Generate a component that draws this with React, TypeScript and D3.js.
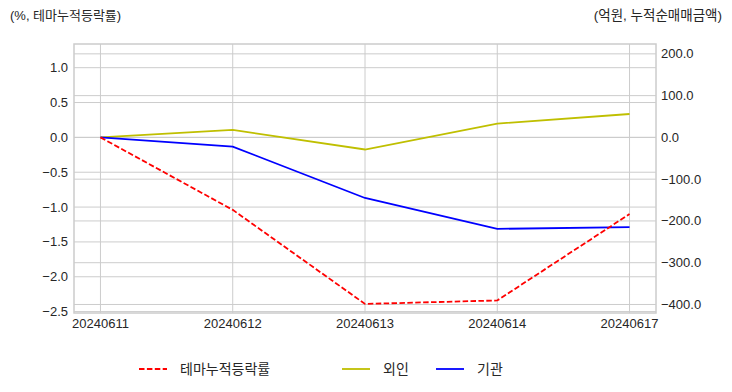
import { useEffect, useRef } from "react";
import * as d3 from "d3";

const dates = ["20240611", "20240612", "20240613", "20240614", "20240617"];
const themeRate = [0, -1.04, -2.39, -2.34, -1.1];
const foreign = [0, 18, -29, 33, 56];
const institution = [0, -22, -145, -219, -215];
const leftTicks = [-2.5, -2.0, -1.5, -1.0, -0.5, 0.0, 0.5, 1.0];
const rightTicks = [-400, -300, -200, -100, 0, 100, 200];

const W = 732;
const H = 392;
const KFONT = "'Liberation Sans', Arial, 'Noto Sans CJK KR', sans-serif";

export default function App() {
  const ref = useRef<SVGSVGElement>(null);

  useEffect(() => {
    const svg = d3.select(ref.current);
    svg.selectAll("*").remove();

    const left = 74, right = 656, top = 44, bottom = 313;

    const x = d3.scaleLinear().domain([-0.2, dates.length - 1 + 0.2]).range([left, right]);
    const yL = d3.scaleLinear().domain([-2.52, 1.34]).range([bottom, top]);
    const yR = d3.scaleLinear().domain([-420.4, 223.6]).range([bottom, top]);

    const grid = svg.append("g").attr("stroke", "#cccccc").attr("stroke-width", 1);

    // vertical grid
    dates.forEach((_, i) => {
      grid.append("line")
        .attr("x1", x(i)).attr("x2", x(i))
        .attr("y1", top).attr("y2", bottom);
    });
    // left grid
    leftTicks.forEach(t => {
      grid.append("line")
        .attr("x1", left).attr("x2", right)
        .attr("y1", yL(t)).attr("y2", yL(t));
    });
    // right grid
    rightTicks.forEach(t => {
      grid.append("line")
        .attr("x1", left).attr("x2", right)
        .attr("y1", yR(t)).attr("y2", yR(t));
    });

    // frame
    svg.append("rect")
      .attr("x", left).attr("y", top)
      .attr("width", right - left).attr("height", bottom - top)
      .attr("fill", "none")
      .attr("stroke", "#cccccc")
      .attr("stroke-width", 1.5);

    const fmt = d3.format(".1f");

    // left tick labels
    svg.append("g").selectAll("text")
      .data(leftTicks)
      .enter()
      .append("text")
      .attr("x", left - 6)
      .attr("y", d => yL(d))
      .attr("dy", "0.35em")
      .attr("text-anchor", "end")
      .attr("font-family", KFONT)
      .attr("font-size", 13)
      .attr("fill", "#262626")
      .text(d => fmt(d));

    // right tick labels
    svg.append("g").selectAll("text")
      .data(rightTicks)
      .enter()
      .append("text")
      .attr("x", right + 5)
      .attr("y", d => yR(d))
      .attr("dy", "0.35em")
      .attr("text-anchor", "start")
      .attr("font-family", KFONT)
      .attr("font-size", 13)
      .attr("fill", "#262626")
      .text(d => fmt(d));

    // x tick labels
    svg.append("g").selectAll("text")
      .data(dates)
      .enter()
      .append("text")
      .attr("x", (_, i) => x(i))
      .attr("y", bottom + 15)
      .attr("text-anchor", "middle")
      .attr("font-family", KFONT)
      .attr("font-size", 13)
      .attr("fill", "#262626")
      .text(d => d);

    // lines
    const lineL = d3.line<number>().x((_, i) => x(i)).y(d => yL(d));
    const lineR = d3.line<number>().x((_, i) => x(i)).y(d => yR(d));

    svg.append("path")
      .datum(foreign)
      .attr("fill", "none")
      .attr("stroke", "#bfbf00")
      .attr("stroke-width", 1.8)
      .attr("d", lineR);

    svg.append("path")
      .datum(institution)
      .attr("fill", "none")
      .attr("stroke", "#0000ff")
      .attr("stroke-width", 1.8)
      .attr("d", lineR);

    svg.append("path")
      .datum(themeRate)
      .attr("fill", "none")
      .attr("stroke", "#ff0000")
      .attr("stroke-width", 1.8)
      .attr("stroke-dasharray", "5.5,2.4")
      .attr("d", lineL);

    // axis titles
    svg.append("text")
      .attr("x", 10).attr("y", 20)
      .attr("font-family", KFONT)
      .attr("font-size", 13)
      .attr("fill", "#262626")
      .text("(%, 테마누적등락률)");

    svg.append("text")
      .attr("x", 722).attr("y", 20)
      .attr("text-anchor", "end")
      .attr("font-family", KFONT)
      .attr("font-size", 13.5)
      .attr("fill", "#262626")
      .text("(억원, 누적순매매금액)");

    // legend
    const legend = [
      { label: "테마누적등락률", color: "#ff0000", dash: "5.5,2.4", x0: 139 },
      { label: "외인", color: "#bfbf00", dash: null, x0: 342 },
      { label: "기관", color: "#0000ff", dash: null, x0: 436 },
    ];
    const lg = svg.append("g");
    legend.forEach(l => {
      lg.append("line")
        .attr("x1", l.x0).attr("x2", l.x0 + 28)
        .attr("y1", 369).attr("y2", 369)
        .attr("stroke", l.color)
        .attr("stroke-width", 1.8)
        .attr("stroke-dasharray", l.dash);
      lg.append("text")
        .attr("x", l.x0 + 41)
        .attr("y", 369)
        .attr("dy", "0.35em")
        .attr("font-family", KFONT)
        .attr("font-size", 14)
        .attr("fill", "#262626")
        .text(l.label);
    });
  }, []);

  return (
    <svg
      ref={ref}
      width={W}
      height={H}
      style={{ position: "absolute", left: 0, top: 0, background: "#fff" }}
    />
  );
}
